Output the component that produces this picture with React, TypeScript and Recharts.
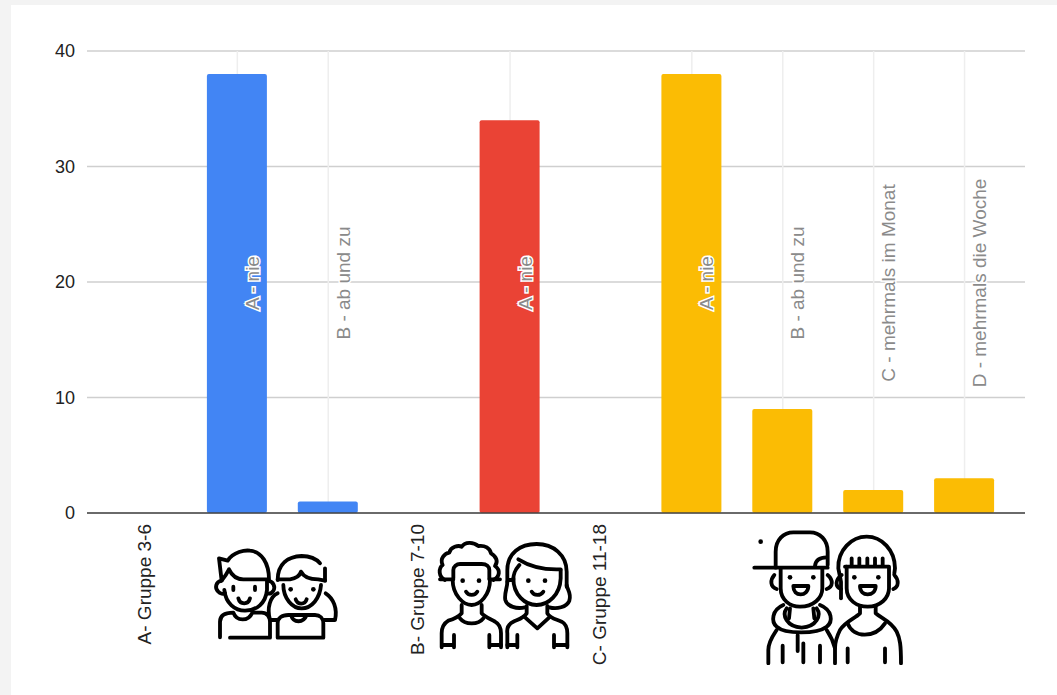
import React from 'react';
import { BarChart, Bar, XAxis, YAxis, CartesianGrid } from 'recharts';

const CATEGORIES = [
  'A- Gruppe 3-6',
  'A - nie',
  'B - ab und zu',
  'B- Gruppe 7-10',
  'A - nie',
  'C- Gruppe 11-18',
  'A - nie',
  'B - ab und zu',
  'C - mehrmals im Monat',
  'D - mehrmals die Woche',
];
const GROUP_SLOTS = [0, 3, 5];
const ANSWER_SLOTS = [1, 2, 4, 6, 7, 8, 9];
const KIDS = [null, 38, 1, null, null, null, null, null, null, null];
const PRETEENS = [null, null, null, null, 34, null, null, null, null, null];
const TEENS = [null, null, null, null, null, null, 38, 9, 2, 3];
const Y_TICKS = [0, 10, 20, 30, 40];

const chartData = CATEGORIES.map((_, i) => ({
  slot: i,
  kids: KIDS[i],
  preteens: PRETEENS[i],
  teens: TEENS[i],
}));

const FONT = '"Liberation Sans", Arial, sans-serif';

function CategoryTick({ x, y, payload }: any) {
  const label = CATEGORIES[payload.value];
  if (GROUP_SLOTS.includes(payload.value)) {
    return (
      <text
        transform={`translate(${x + 5},${y + 9}) rotate(-90)`}
        textAnchor="end"
        fontFamily={FONT}
        fontSize={19}
        fill="#222"
      >
        {label}
      </text>
    );
  }
  // answer labels sit inside the plot, centred on its height
  return (
    <text
      transform={`translate(${x + 21.5},${y - 232}) rotate(-90)`}
      textAnchor="middle"
      fontFamily={FONT}
      fontSize={19}
      fill="#8a8a8a"
      stroke="#fff"
      strokeWidth={3}
      style={{ paintOrder: 'stroke' }}
    >
      {label}
    </text>
  );
}

function Icon({ left, top, w, h, children }: any) {
  return (
    <svg
      style={{ position: 'absolute', left, top }}
      width={w}
      height={h}
      viewBox={`0 0 ${w * 3} ${h * 3}`}
      fill="none"
      stroke="#000"
      strokeWidth={11.5}
      strokeLinecap="round"
      strokeLinejoin="round"
    >
      {children}
    </svg>
  );
}

const Dot = ({ x, y }: { x: number; y: number }) => (
  <circle cx={x} cy={y} r={7} fill="#000" stroke="none" />
);

function YoungKids() {
  return (
    <Icon left={205} top={540} w={140} h={105}>
      <path d="M68 62 C85 35 120 30 135 32 C170 35 192 70 192 118 L115 118 C95 118 80 105 72 88 C66 100 58 112 50 122 L42 55 Z" />
      <path d="M50 122 C32 125 28 145 40 155 C45 162 55 162 60 160" />
      <path d="M58 150 C62 190 90 212 120 212 C155 212 182 190 186 150 L186 122" />
      <path d="M190 122 C205 125 212 140 205 152 C200 160 192 162 186 160" />
      <path d="M85 140 L85 150 M150 140 L150 150" />
      <path d="M100 175 C105 195 130 195 135 175" />
      <path d="M45 292 L45 245 C45 225 60 218 85 218 C95 245 130 245 142 218 L170 218 C185 218 195 230 195 245 L195 293 L75 293" />
      <path d="M218 120 C218 70 250 50 290 48 C315 48 335 58 345 70 M360 85 L360 122" />
      <path d="M218 118 L255 118 C275 115 285 105 288 95 C295 110 310 118 340 118 L360 122" />
      <path d="M235 135 C235 175 262 205 290 205 C320 205 345 175 348 135" />
      <Dot x={257} y={148} />
      <Dot x={325} y={148} />
      <path d="M272 178 C278 195 300 195 305 178" />
      <path d="M218 160 C195 170 185 205 195 240 L215 240 M362 160 C385 175 398 205 390 240 L358 240" />
      <path d="M218 293 L218 250 C218 235 230 225 250 225 L330 225 C345 225 355 235 355 250 L355 293 Z" />
      <path d="M258 225 C265 250 295 250 305 225" />
    </Icon>
  );
}

function MiddleKids() {
  return (
    <Icon left={430} top={530} w={150} h={125}>
      <path d="M45 150 C25 140 25 115 38 105 C28 85 45 70 58 68 C62 50 85 45 95 50 C105 35 130 35 145 48 C165 45 180 55 183 70 C200 80 205 95 195 108 C212 120 210 140 190 150" />
      <path d="M70 145 L70 120 C70 110 80 102 90 102 L155 102 C170 102 178 110 178 120 L178 145" />
      <path d="M30 148 L70 148 M178 148 L210 148" />
      <path d="M68 150 C68 195 100 225 125 225 C150 225 180 195 180 150" />
      <Dot x={98} y={152} />
      <Dot x={147} y={152} />
      <path d="M108 185 C115 198 135 198 142 185" />
      <path d="M95 225 L95 250 C85 262 70 268 55 272 C42 280 35 290 35 310 L35 352" />
      <path d="M155 225 L155 250 C165 262 185 268 195 275 C208 282 213 295 213 310 L213 352" />
      <path d="M90 265 C105 285 145 285 160 265" />
      <path d="M72 315 L72 352 M38 345 L72 345 M178 315 L178 352 M178 345 L213 345" />
      <path d="M232 155 L232 120 C232 70 270 42 320 42 C370 42 410 75 410 125 L410 170" />
      <path d="M265 88 C300 110 345 120 392 118" />
      <path d="M268 105 C255 120 250 130 250 150 L235 150" />
      <path d="M250 145 C250 195 285 225 320 225 C355 225 390 195 392 145 L392 120" />
      <path d="M232 155 C232 175 222 190 226 210 C232 230 260 238 285 232" />
      <path d="M410 165 C412 180 425 190 418 212 C410 232 380 238 358 232" />
      <Dot x={295} y={152} />
      <Dot x={345} y={152} />
      <path d="M305 185 C312 198 332 198 340 185" />
      <path d="M290 228 L290 250 C280 265 265 268 250 275 C235 282 230 295 232 310 L232 352" />
      <path d="M352 228 L352 250 C360 265 380 268 395 275 C408 282 412 295 412 310 L412 352" />
      <path d="M285 262 L322 295 L358 262" />
      <path d="M232 345 L262 345 M262 315 L262 352 M372 315 L372 352 M372 345 L412 345" />
    </Icon>
  );
}

function Teens() {
  return (
    <Icon left={745} top={525} w={165} h={140}>
      <Dot x={47} y={50} />
      <path d="M92 128 L92 80 C92 45 115 22 145 22 L195 22 C225 22 248 45 248 80 L248 120" />
      <path d="M28 128 L248 128" />
      <path d="M210 122 C212 105 225 97 245 97" />
      <path d="M107 130 L107 190 C107 225 135 245 165 245 C205 245 232 220 232 190 L232 130" />
      <path d="M88 150 C75 165 75 185 95 192 M248 150 C265 165 265 185 245 192" />
      <Dot x={135} y={157} />
      <Dot x={205} y={157} />
      <path d="M145 183 L190 183 C190 200 178 208 167 208 C155 208 145 200 145 183 Z" />
      <path d="M115 240 C80 255 78 290 95 305 C120 328 215 328 245 305 C265 290 262 255 225 240" />
      <path d="M125 250 C110 270 125 305 170 308 C215 305 230 270 215 250" />
      <path d="M135 250 L132 280 M205 250 L208 280" />
      <path d="M70 415 L70 375 C70 350 85 330 95 315 M245 315 C255 330 265 350 270 370 L270 415" />
      <path d="M113 362 L113 412 M158 330 L158 378 M175 355 L175 412 M225 362 L225 412" />
      <path d="M287 165 L280 130 C278 75 320 35 365 35 C410 35 450 75 450 130 L448 145" />
      <path d="M300 125 L430 125 M320 100 L320 125 M343 100 L343 125 M367 100 L367 125 M390 100 L390 125 M413 100 L413 125" />
      <path d="M305 125 L305 190 C305 225 335 245 368 245 C405 245 432 220 432 190 L432 125" />
      <path d="M290 150 C270 165 270 185 288 192 M448 150 C462 165 462 185 445 192" />
      <path d="M288 170 L288 220" />
      <Dot x={328} y={157} />
      <Dot x={400} y={157} />
      <path d="M345 183 L392 183 C392 200 380 208 368 208 C356 208 345 200 345 183 Z" />
      <path d="M345 245 L345 265 C330 280 300 290 285 315 C275 335 270 355 270 370" />
      <path d="M392 245 L392 265 C410 280 440 290 455 320 C465 340 468 360 468 415" />
      <path d="M308 295 C325 340 390 340 420 295" />
      <path d="M308 370 L308 412 M420 370 L420 412" />
    </Icon>
  );
}

export default function App() {
  return (
    <div style={{ position: 'absolute', left: 0, top: 0, width: 1057, height: 695, overflow: 'hidden', background: '#f3f3f3' }}>
      <div style={{ position: 'absolute', left: 11, top: 5, right: 0, bottom: 0, background: '#fff' }} />
      <div style={{ position: 'absolute', left: 0, top: 0 }}>
        <BarChart
          width={1057}
          height={695}
          data={chartData}
          margin={{ top: 51, right: 32, bottom: 0, left: 0 }}
          barSize={60}
        >
          <CartesianGrid vertical={false} stroke="#cfcfcf" strokeWidth={1.4} />
          <CartesianGrid horizontal={false} verticalValues={ANSWER_SLOTS} stroke="#eeeeee" strokeWidth={1.5} />
          <YAxis
            width={87}
            domain={[0, 40]}
            ticks={Y_TICKS}
            axisLine={false}
            tickLine={false}
            tickMargin={6}
            tick={{ fontFamily: FONT, fontSize: 18, fill: '#222' }}
          />
          <Bar dataKey="kids" stackId="all" fill="#4285f4" radius={2} isAnimationActive={false} />
          <Bar dataKey="preteens" stackId="all" fill="#ea4335" radius={2} isAnimationActive={false} />
          <Bar dataKey="teens" stackId="all" fill="#fbbc04" radius={2} isAnimationActive={false} />
          <XAxis
            dataKey="slot"
            height={182}
            interval={0}
            padding={{ left: 14, right: 15 }}
            axisLine={{ stroke: '#444', strokeWidth: 1.5 }}
            tickLine={false}
            tickSize={0}
            tick={<CategoryTick />}
          />
        </BarChart>
      </div>
      <YoungKids />
      <MiddleKids />
      <Teens />
    </div>
  );
}
